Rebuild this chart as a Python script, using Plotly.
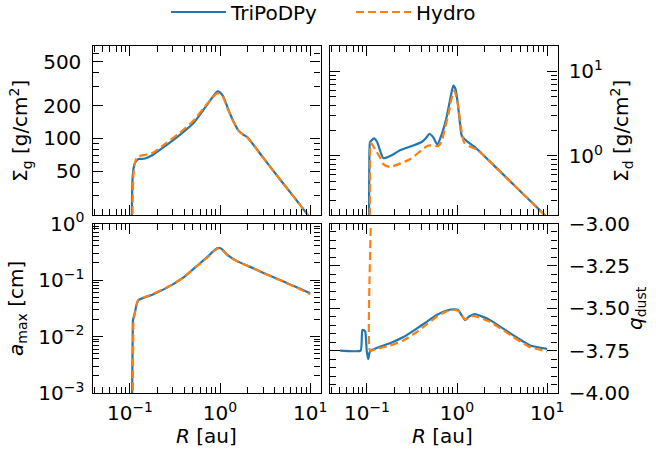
import plotly.graph_objects as go

W, H = 656, 459
BLUE = "#1f77b4"
ORANGE = "#ff7f0e"
FONT = "DejaVu Sans"
FS = 20

# ---------------- data ----------------
# Sigma_g (top-left)
r_sg_tri = [0.05, 0.1, 0.104, 0.1055, 0.107, 0.109, 0.112, 0.118, 0.125, 0.135, 0.15, 0.18, 0.254, 0.358,
            0.505, 0.652, 0.807, 0.9, 0.94, 0.99, 1.09, 1.24, 1.41, 1.6, 1.82, 2.0, 3.0, 5.0, 7.0, 10.0]
sg_tri = [8, 8, 12, 30, 44, 52, 58, 63, 65, 65, 66, 71, 87, 108,
          138, 182, 233, 262, 270, 265, 241, 182, 143, 118, 108, 103, 67, 39, 27.5, 18.8]
r_sg_hyd = [0.05, 0.1, 0.105, 0.107, 0.109, 0.112, 0.117, 0.125, 0.135, 0.15, 0.18, 0.254, 0.358, 0.505,
            0.652, 0.807, 0.9, 0.95, 1.0, 1.09, 1.24, 1.41, 1.6, 1.82, 2.0, 3.0, 5.0, 7.0, 10.0]
sg_hyd = [8, 8, 11, 25, 45, 57, 65, 69, 70, 71, 74, 91, 113, 145,
          188, 232, 255, 258, 252, 235, 180, 142, 118, 108, 103, 67, 39, 27.5, 18.8]

# Sigma_d (top-right)
r_sd_tri = [0.05, 0.1, 0.104, 0.106, 0.108, 0.112, 0.1197, 0.13, 0.14, 0.152, 0.188, 0.233, 0.32, 0.405,
            0.45, 0.493, 0.54, 0.604, 0.676, 0.755, 0.836, 0.91, 0.96, 1.018, 1.07, 1.13, 1.28, 1.58,
            2.0, 3.0, 5.0, 7.0, 10.0]
sd_tri = [0.08, 0.08, 0.1, 0.6, 1.45, 1.52, 1.61, 1.45, 1.15, 0.94, 1.02, 1.17, 1.32, 1.46,
          1.62, 1.83, 1.68, 1.37, 1.8, 2.69, 4.6, 6.8, 6.2, 4.2, 2.6, 1.72, 1.5, 1.27,
          1.0, 0.656, 0.385, 0.272, 0.1875]
r_sd_hyd = [0.05, 0.1, 0.106, 0.108, 0.11, 0.113, 0.123, 0.14, 0.152, 0.18, 0.3, 0.48, 0.62, 0.676,
            0.74, 0.80, 0.87, 0.933, 1.018, 1.107, 1.2, 1.39, 1.65, 2.0, 3.0, 5.0, 7.0, 10.0]
sd_hyd = [0.08, 0.08, 0.1, 0.4, 1.41, 1.38, 1.2, 0.95, 0.80, 0.743, 0.914, 1.33, 1.31, 1.5,
          2.2, 3.08, 4.8, 5.94, 4.2, 2.15, 1.44, 1.29, 1.2, 1.0, 0.656, 0.385, 0.272, 0.1875]

# a_max (bottom-left)
r_am_tri = [0.05, 0.1, 0.104, 0.1055, 0.1075, 0.108, 0.113, 0.118, 0.123, 0.14, 0.18, 0.277, 0.39, 0.55,
            0.741, 0.88, 0.958, 1.03, 1.19, 1.54, 2.07, 3.0, 5.0, 7.0, 10.0]
am_tri = [3e-4, 3e-4, 4e-4, 8e-4, 0.017, 0.0196, 0.026, 0.036, 0.0435, 0.048, 0.0556, 0.078, 0.1097, 0.176,
          0.264, 0.345, 0.372, 0.36, 0.283, 0.216, 0.176, 0.135, 0.0946, 0.075, 0.0585]
r_am_hyd = [0.05, 0.1, 0.106, 0.1075, 0.109, 0.11, 0.114, 0.119, 0.124, 0.14, 0.18, 0.277, 0.39, 0.55,
            0.741, 0.88, 0.958, 1.03, 1.19, 1.54, 2.07, 3.0, 5.0, 7.0, 10.0]
am_hyd = [3e-4, 3e-4, 4e-4, 8e-4, 0.016, 0.0196, 0.027, 0.037, 0.0445, 0.049, 0.0565, 0.079, 0.110, 0.174,
          0.260, 0.338, 0.364, 0.355, 0.281, 0.215, 0.175, 0.134, 0.094, 0.074, 0.056]

# q_dust (bottom-right)
r_q_tri = [0.05, 0.085, 0.0887, 0.0929, 0.096, 0.0993, 0.1015, 0.1035, 0.107, 0.110, 0.128, 0.18, 0.254,
           0.356, 0.46, 0.594, 0.736, 0.91, 1.03, 1.12, 1.23, 1.35, 1.58, 2.33, 4.22, 6.47, 10.0]
q_tri = [-3.75, -3.75, -3.63, -3.63, -3.64, -3.75, -3.78, -3.80, -3.76, -3.75, -3.734, -3.706, -3.67,
         -3.62, -3.58, -3.54, -3.516, -3.506, -3.51, -3.54, -3.57, -3.55, -3.534, -3.57, -3.66, -3.72, -3.74]
r_q_hyd = [0.05, 0.106, 0.108, 0.128, 0.18, 0.254, 0.356, 0.46, 0.594, 0.75, 0.95, 1.06, 1.23, 1.52,
           2.33, 4.22, 6.47, 10.0]
q_hyd = [-2.0, -2.0, -3.75, -3.74, -3.72, -3.69, -3.64, -3.595, -3.55, -3.52, -3.51, -3.52, -3.566,
         -3.545, -3.58, -3.67, -3.73, -3.755]

# tick labels
x_tickvals = [0.1, 1, 10]
x_ticktext = ["10<sup>\u22121</sup>", "10<sup>0</sup>", "10<sup>1</sup>"]
sg_tickvals = [50, 100, 200, 500]
sg_ticktext = ["50", "100", "200", "500"]
sd_tickvals = [1, 10]
sd_ticktext = ["10<sup>0</sup>", "10<sup>1</sup>"]
am_tickvals = [1e-3, 1e-2, 1e-1, 1]
am_ticktext = ["10<sup>\u22123</sup>", "10<sup>\u22122</sup>", "10<sup>\u22121</sup>", "10<sup>0</sup>"]
q_tickvals = [-4.0, -3.75, -3.5, -3.25, -3.0]
q_ticktext = ["\u22124.00", "\u22123.75", "\u22123.50", "\u22123.25", "\u22123.00"]

# ---------------- layout geometry ----------------
xL = [92.5 / W, 320.5 / W]
xR = [329.5 / W, 557.5 / W]
yT = [1 - 215 / H, 1 - 46 / H]
yB = [1 - 393 / H, 1 - 223.5 / H]


def minor_log(lo_exp, hi_exp, lo, hi):
    vals = []
    for e in range(lo_exp, hi_exp + 1):
        for m in range(2, 10):
            v = m * 10 ** e
            if lo <= v <= hi:
                vals.append(v)
    return vals


x_minor = minor_log(-2, 1, 0.035, 13.5)
sg_minor = [v for v in minor_log(1, 2, 20, 700) if v not in sg_tickvals]
sd_minor = minor_log(-1, 1, 0.2, 20)
am_minor = minor_log(-3, -1, 1e-3, 1)
q_minor = [-3.95, -3.9, -3.85, -3.8, -3.7, -3.65, -3.6, -3.55, -3.45, -3.4, -3.35, -3.3, -3.2, -3.15, -3.1, -3.05]

common = dict(
    ticks="inside", ticklen=10, tickwidth=1.3, tickcolor="black",
    showline=True, linecolor="black", linewidth=1.3, mirror="allticks",
    showgrid=False, zeroline=False, automargin=False,
    tickfont=dict(family=FONT, size=FS, color="black"),
)


def minor(vals):
    return dict(tickmode="array", tickvals=vals, ticks="inside", ticklen=6, tickwidth=1,
                tickcolor="black", showgrid=False)


fig = go.Figure()

panels = [
    ("x", "y", r_sg_tri, sg_tri, r_sg_hyd, sg_hyd, True, 0.6),
    ("x2", "y2", r_sd_tri, sd_tri, r_sd_hyd, sd_hyd, False, 0.6),
    ("x3", "y3", r_am_tri, am_tri, r_am_hyd, am_hyd, False, 0.6),
    ("x4", "y4", r_q_tri, q_tri, r_q_hyd, q_hyd, False, 0.4),
]
for xa, ya, rt, vt, rh, vh, show, sm in panels:
    fig.add_trace(go.Scatter(x=rt, y=vt, mode="lines",
                             line=dict(color=BLUE, width=2.2, shape="spline", smoothing=sm),
                             name="TriPoDPy", legendgroup="tri", showlegend=show, xaxis=xa, yaxis=ya))
    fig.add_trace(go.Scatter(x=rh, y=vh, mode="lines",
                             line=dict(color=ORANGE, width=2.2, dash="8px,4px", shape="spline", smoothing=sm),
                             name="Hydro", legendgroup="hyd", showlegend=show, xaxis=xa, yaxis=ya))

xrange = [-1.416, 1.115]
fig.update_layout(
    width=W, height=H,
    margin=dict(l=0, r=0, t=0, b=0, autoexpand=False),
    paper_bgcolor="white", plot_bgcolor="white",
    font=dict(family=FONT, size=FS, color="black"),
    xaxis=dict(common, domain=xL, anchor="y", type="log", range=xrange, tickmode="array",
               tickvals=x_tickvals, ticktext=x_ticktext, showticklabels=False, minor=minor(x_minor)),
    xaxis2=dict(common, domain=xR, anchor="y2", type="log", range=xrange, tickmode="array",
                tickvals=x_tickvals, ticktext=x_ticktext, showticklabels=False, minor=minor(x_minor)),
    xaxis3=dict(common, domain=xL, anchor="y3", type="log", range=xrange, tickmode="array",
                tickvals=x_tickvals, ticktext=x_ticktext, minor=minor(x_minor), ticklabelstandoff=2),
    xaxis4=dict(common, domain=xR, anchor="y4", type="log", range=xrange, tickmode="array",
                tickvals=x_tickvals, ticktext=x_ticktext, minor=minor(x_minor), ticklabelstandoff=2),
    yaxis=dict(common, domain=yT, anchor="x", type="log", range=[1.301, 2.845], tickmode="array",
               tickvals=sg_tickvals, ticktext=sg_ticktext, minor=minor(sg_minor), ticklabelstandoff=6),
    yaxis2=dict(common, domain=yT, anchor="x2", side="right", type="log", range=[-0.699, 1.301],
                tickmode="array", tickvals=sd_tickvals, ticktext=sd_ticktext, minor=minor(sd_minor),
                ticklabelstandoff=6),
    yaxis3=dict(common, domain=yB, anchor="x3", type="log", range=[-3, 0], tickmode="array",
                tickvals=am_tickvals, ticktext=am_ticktext, minor=minor(am_minor), ticklabelstandoff=3),
    yaxis4=dict(common, domain=yB, anchor="x4", side="right", range=[-4, -3], tickmode="array",
                tickvals=q_tickvals, ticktext=q_ticktext, minor=minor(q_minor), ticklabelstandoff=6),
    legend=dict(orientation="h", x=351 / W, xanchor="center", y=1 - 12 / H, yanchor="middle",
                font=dict(family=FONT, size=FS, color="black"), bgcolor="rgba(0,0,0,0)",
                itemwidth=55, entrywidth=115, entrywidthmode="pixels", tracegroupgap=0),
    showlegend=True,
)

def ann(text, xp, yp, angle=0):
    fig.add_annotation(text=text, x=xp / W, y=1 - yp / H, xref="paper", yref="paper",
                       showarrow=False, textangle=angle, xanchor="center", yanchor="middle",
                       font=dict(family=FONT, size=FS, color="black"))

ann("\u03a3<sub>g</sub> [g/cm<sup>2</sup>]", 21, 131, -90)
ann("<i>a</i><sub>max</sub> [cm]", 17, 309, -90)
ann("\u03a3<sub>d</sub> [g/cm<sup>2</sup>]", 622, 131, -90)
ann("<i>q</i><sub>dust</sub>", 636, 308, -90)
ann("<i>R</i> [au]", 206, 436)
ann("<i>R</i> [au]", 442, 436)

fig.write_html("out.html")
